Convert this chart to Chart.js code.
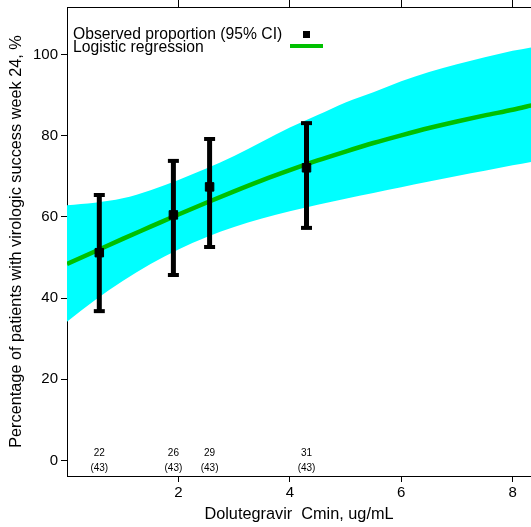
<!DOCTYPE html>
<html>
<head>
<meta charset="utf-8">
<script src="https://cdn.jsdelivr.net/npm/chart.js@4.4.0/dist/chart.umd.min.js"></script>
<style>
  html, body { margin: 0; padding: 0; background: #fff; }
  #wrap { width: 531px; height: 527px; }
</style>
</head>
<body>
<div id="wrap"><canvas id="chart" width="531" height="527"></canvas></div>
<script>
const FONT = '"Liberation Sans", Arial, Helvetica, sans-serif';

// fitted logistic curve + 95% band
const curveX    = [0, 0.5, 1, 1.5, 2, 2.5, 3, 3.5, 4, 4.5, 5, 5.5, 6, 6.5, 7, 7.5, 8, 8.35];
const fitValues = [48.4, 51.5, 54.6, 57.6, 60.6, 63.5, 66.3, 69.0, 71.5, 73.9, 76.1, 78.2, 80.1, 81.9, 83.5, 85.0, 86.4, 87.5];
const upperCI   = [62.9, 63.5, 64.6, 66.6, 69.1, 71.9, 75.0, 78.5, 82.0, 85.1, 88.2, 90.7, 93.4, 95.7, 97.6, 99.3, 100.9, 101.8];
const lowerCI   = [34.2, 39.5, 44.2, 48.4, 52.0, 55.0, 57.5, 59.6, 61.4, 63.0, 64.5, 65.9, 67.3, 68.7, 70.1, 71.4, 72.7, 73.6];

// observed proportions per Cmin group
const cminObs    = [0.58, 1.91, 2.56, 4.30];
const obsPct     = [51.2, 60.5, 67.4, 72.1];
const obsLow     = [36.8, 45.7, 52.6, 57.3];
const obsHigh    = [65.4, 73.8, 79.2, 83.1];
const responders = [22, 26, 29, 31];
const totals     = [43, 43, 43, 43];

const xTicks = [2, 4, 6, 8];
const yTicks = [0, 20, 40, 60, 80, 100];
const X_MIN = 0, X_MAX = 8.33, Y_MIN = -3.8, Y_MAX = 111.7;

const pts = (xs, ys) => xs.map((x, i) => ({ x, y: ys[i] }));

const errorBars = cminObs.map((c, i) => ({
  data: [{ x: c, y: obsLow[i] }, { x: c, y: obsHigh[i] }],
  showLine: true,
  borderColor: '#000',
  borderWidth: 5,
  pointStyle: 'line',
  pointRadius: 5.5,
  pointBorderWidth: 4,
  pointBorderColor: '#000',
  order: 2
}));

const extras = {
  id: 'extras',
  afterDatasetsDraw(chart) {
    const { ctx, scales: { x, y } } = chart;
    ctx.save();
    ctx.fillStyle = '#000';
    // n / N under each group
    ctx.textAlign = 'center';
    ctx.textBaseline = 'middle';
    ctx.font = '10px ' + FONT;
    cminObs.forEach((c, i) => {
      const px = x.getPixelForValue(c);
      ctx.fillText(String(responders[i]), px, y.getPixelForValue(1.9));
      ctx.fillText('(' + totals[i] + ')', px, y.getPixelForValue(-1.8));
    });
    // legend
    ctx.textAlign = 'left';
    ctx.textBaseline = 'alphabetic';
    ctx.font = '15.7px ' + FONT;
    ctx.fillText('Observed proportion (95% CI)', 73, 39);
    ctx.fillText('Logistic regression', 73, 52);
    ctx.fillRect(303, 31, 7, 7);
    ctx.strokeStyle = '#00C000';
    ctx.lineWidth = 4;
    ctx.beginPath();
    ctx.moveTo(290, 46);
    ctx.lineTo(323, 46);
    ctx.stroke();
    ctx.restore();
  }
};

new Chart(document.getElementById('chart'), {
  type: 'scatter',
  data: {
    datasets: [
      {
        data: pts(curveX, lowerCI),
        showLine: true, borderColor: 'rgba(0,0,0,0)', borderWidth: 0,
        pointRadius: 0, cubicInterpolationMode: 'monotone', order: 10
      },
      {
        data: pts(curveX, upperCI),
        showLine: true, borderColor: 'rgba(0,0,0,0)', borderWidth: 0,
        pointRadius: 0, cubicInterpolationMode: 'monotone',
        fill: '-1', backgroundColor: '#00FFFF', order: 9
      },
      {
        data: pts(curveX, fitValues),
        showLine: true, borderColor: '#00C000', borderWidth: 4.5,
        pointRadius: 0, cubicInterpolationMode: 'monotone', order: 5
      },
      ...errorBars,
      {
        data: pts(cminObs, obsPct),
        showLine: false, pointStyle: 'rect', pointRadius: 6,
        backgroundColor: '#000', borderColor: '#000', borderWidth: 1, order: 1
      }
    ]
  },
  options: {
    responsive: false,
    animation: false,
    devicePixelRatio: 1,
    layout: { padding: 0, autoPadding: false },
    plugins: { legend: { display: false }, tooltip: { enabled: false } },
    scales: {
      x: {
        type: 'linear', position: 'bottom', min: X_MIN, max: X_MAX,
        afterBuildTicks: s => { s.ticks = xTicks.map(v => ({ value: v })); },
        afterFit: s => { s.height = 51; s.paddingLeft = 0; s.paddingRight = 0; },
        ticks: { color: '#000', font: { family: FONT, size: 15 }, padding: 2, maxRotation: 0 },
        grid: { drawOnChartArea: false, tickLength: 6, color: '#000' },
        border: { color: '#000', width: 1 },
        title: {
          display: true, text: 'Dolutegravir  Cmin, ug/mL', color: '#000',
          font: { family: FONT, size: 16.3 }, padding: { top: 0, bottom: 3 }
        }
      },
      x2: {
        type: 'linear', position: 'top', min: X_MIN, max: X_MAX,
        afterBuildTicks: s => { s.ticks = xTicks.map(v => ({ value: v })); },
        afterFit: s => { s.height = 7; s.paddingLeft = 0; s.paddingRight = 0; },
        ticks: { display: false },
        grid: { drawOnChartArea: false, tickLength: 7, color: '#000' },
        border: { color: '#000', width: 1 }
      },
      y: {
        type: 'linear', min: Y_MIN, max: Y_MAX,
        afterBuildTicks: s => { s.ticks = yTicks.map(v => ({ value: v })); },
        afterFit: s => { s.width = 67; s.paddingTop = 0; s.paddingBottom = 0; },
        ticks: { color: '#000', font: { family: FONT, size: 15 }, padding: 3 },
        grid: { drawOnChartArea: false, tickLength: 6, color: '#000' },
        border: { color: '#000', width: 1 },
        title: {
          display: true, text: 'Percentage of patients with virologic success week 24, %',
          color: '#000', font: { family: FONT, size: 16.3 }, padding: { top: 7, bottom: 0 }
        }
      }
    }
  },
  plugins: [extras]
});
</script>
</body>
</html>
